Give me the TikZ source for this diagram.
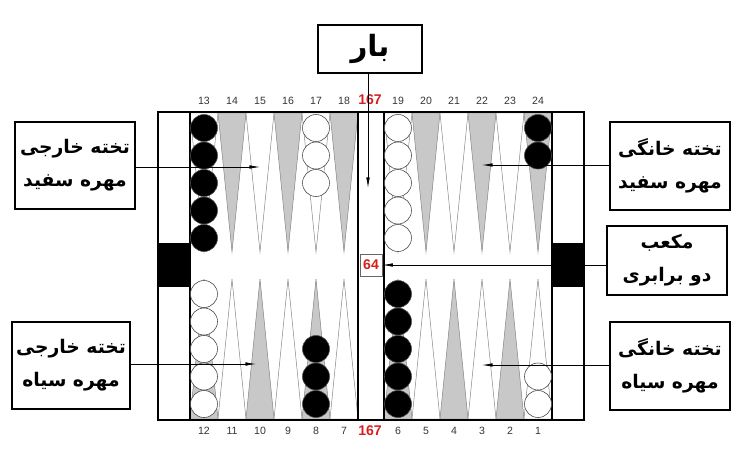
\documentclass[tikz,border=0pt]{standalone}
\usepackage{fontspec}
\setsansfont{Liberation Sans}
\newfontfamily\fa[Script=Arabic]{DejaVu Sans}
\TeXXeTstate=1
\usepackage{tikz}
\usetikzlibrary{shapes}
\usetikzlibrary{arrows.meta}
\definecolor{numred}{RGB}{214,32,32}
\definecolor{ptgray}{RGB}{200,200,200}

\begin{document}
\begin{tikzpicture}[x=0.03cm, y=-0.03cm,
	ptw/.style={draw=black!50, line width=0.4pt, fill=white},
	ptg/.style={draw=black!50, line width=0.4pt, fill=ptgray},
	bchk/.style={circle, draw=black!70, fill=black, line width=0.5pt, minimum size=0.81cm, inner sep=0pt},
	wchk/.style={circle, draw=black!70, fill=white, line width=0.5pt, minimum size=0.81cm, inner sep=0pt},
	num/.style={font=\sffamily\fontsize{9}{10}\selectfont, text=black!80, inner sep=0pt},
	rednum/.style={font=\sffamily\bfseries\fontsize{12}{13}\selectfont, text=numred, inner sep=0pt},
	lbl/.style={draw, line width=0.9pt, font=\fa\bfseries\fontsize{16}{28}\selectfont, align=center, inner sep=0pt},
	arr/.style={-{Latex[length=9pt,width=3pt]}, line width=0.6pt}]
	\useasboundingbox (0,0) rectangle (750,466);
	% board
	\fill[white] (158,112) rectangle (584,420);
	\filldraw[ptw] (190,113) -- (204,252) -- (218,113) -- cycle;\filldraw[ptg] (218,113) -- (232,252) -- (246,113) -- cycle;\filldraw[ptw] (246,113) -- (260,252) -- (274,113) -- cycle;\filldraw[ptg] (274,113) -- (288,252) -- (302,113) -- cycle;\filldraw[ptw] (302,113) -- (316,252) -- (330,113) -- cycle;\filldraw[ptg] (330,113) -- (344,252) -- (358,113) -- cycle;
	\filldraw[ptw] (384,113) -- (398,252) -- (412,113) -- cycle;\filldraw[ptg] (412,113) -- (426,252) -- (440,113) -- cycle;\filldraw[ptw] (440,113) -- (454,252) -- (468,113) -- cycle;\filldraw[ptg] (468,113) -- (482,252) -- (496,113) -- cycle;\filldraw[ptw] (496,113) -- (510,252) -- (524,113) -- cycle;\filldraw[ptg] (524,113) -- (538,252) -- (552,113) -- cycle;
	\filldraw[ptg] (190,419) -- (204,279) -- (218,419) -- cycle;\filldraw[ptw] (218,419) -- (232,279) -- (246,419) -- cycle;\filldraw[ptg] (246,419) -- (260,279) -- (274,419) -- cycle;\filldraw[ptw] (274,419) -- (288,279) -- (302,419) -- cycle;\filldraw[ptg] (302,419) -- (316,279) -- (330,419) -- cycle;\filldraw[ptw] (330,419) -- (344,279) -- (358,419) -- cycle;
	\filldraw[ptg] (384,419) -- (398,279) -- (412,419) -- cycle;\filldraw[ptw] (412,419) -- (426,279) -- (440,419) -- cycle;\filldraw[ptg] (440,419) -- (454,279) -- (468,419) -- cycle;\filldraw[ptw] (468,419) -- (482,279) -- (496,419) -- cycle;\filldraw[ptg] (496,419) -- (510,279) -- (524,419) -- cycle;\filldraw[ptw] (524,419) -- (538,279) -- (552,419) -- cycle;
	\fill (158,243) rectangle (190,287);\fill (552,243) rectangle (584,287);
	\draw[line width=1.4pt] (158,112) rectangle (584,420);
	\draw[line width=1.4pt] (190,112) -- (190,420);\draw[line width=1.4pt] (358,112) -- (358,420);\draw[line width=1.4pt] (384,112) -- (384,420);\draw[line width=1.4pt] (552,112) -- (552,420);
	% checkers
	\node[bchk] (c13a) at (204,128) {};\node[bchk] (c13b) at (204,155.5) {};\node[bchk] (c13c) at (204,183) {};\node[bchk] (c13d) at (204,210.5) {};\node[bchk] (c13e) at (204,238) {};
	\node[wchk] (c17a) at (316,128) {};\node[wchk] (c17b) at (316,155.5) {};\node[wchk] (c17c) at (316,183) {};
	\node[wchk] (c19a) at (398,128) {};\node[wchk] (c19b) at (398,155.5) {};\node[wchk] (c19c) at (398,183) {};\node[wchk] (c19d) at (398,210.5) {};\node[wchk] (c19e) at (398,238) {};
	\node[bchk] (c24a) at (538,128) {};\node[bchk] (c24b) at (538,155.5) {};
	\node[wchk] (c12a) at (204,404) {};\node[wchk] (c12b) at (204,376.5) {};\node[wchk] (c12c) at (204,349) {};\node[wchk] (c12d) at (204,321.5) {};\node[wchk] (c12e) at (204,294) {};
	\node[bchk] (c8a) at (316,404) {};\node[bchk] (c8b) at (316,376.5) {};\node[bchk] (c8c) at (316,349) {};
	\node[bchk] (c6a) at (398,404) {};\node[bchk] (c6b) at (398,376.5) {};\node[bchk] (c6c) at (398,349) {};\node[bchk] (c6d) at (398,321.5) {};\node[bchk] (c6e) at (398,294) {};
	\node[wchk] (c1a) at (538,404) {};\node[wchk] (c1b) at (538,376.5) {};
	% point numbers
	\node[num] (n13) at (204,101) {13};\node[num] (n14) at (232,101) {14};\node[num] (n15) at (260,101) {15};\node[num] (n16) at (288,101) {16};\node[num] (n17) at (316,101) {17};\node[num] (n18) at (344,101) {18};
	\node[num] (n19) at (398,101) {19};\node[num] (n20) at (426,101) {20};\node[num] (n21) at (454,101) {21};\node[num] (n22) at (482,101) {22};\node[num] (n23) at (510,101) {23};\node[num] (n24) at (538,101) {24};
	\node[num] (n12) at (204,431) {12};\node[num] (n11) at (232,431) {11};\node[num] (n10) at (260,431) {10};\node[num] (n9) at (288,431) {9};\node[num] (n8) at (316,431) {8};\node[num] (n7) at (344,431) {7};
	\node[num] (n6) at (398,431) {6};\node[num] (n5) at (426,431) {5};\node[num] (n4) at (454,431) {4};\node[num] (n3) at (482,431) {3};\node[num] (n2) at (510,431) {2};\node[num] (n1) at (538,431) {1};
	\node[rednum] (top167) at (370,100) {167};\node[rednum] (bot167) at (370,431) {167};
	\node[rednum, draw=black!60, fill=white, line width=0.5pt, minimum size=0.66cm, inner sep=0pt] (d64) at (371,265) {64};
	% labels
	\node[lbl, minimum width=3.12cm, minimum height=1.44cm, font=\fa\bfseries\fontsize{25}{28}\selectfont] (bar) at (370,49) {\beginR بار\endR};
	\node[lbl, minimum width=3.6cm, minimum height=2.61cm] (lw) at (75,165.5) {\beginR تخته خارجی\endR\\\beginR مهره سفید\endR};
	\node[lbl, minimum width=3.54cm, minimum height=2.61cm] (lb) at (71,365.5) {\beginR تخته خارجی\endR\\\beginR مهره سیاه\endR};
	\node[lbl, minimum width=3.6cm, minimum height=2.64cm] (rw) at (670,166) {\beginR تخته خانگی\endR\\\beginR مهره سفید\endR};
	\node[lbl, minimum width=3.6cm, minimum height=2.07cm] (dbl) at (667,260.5) {\beginR مکعب\endR\\\beginR دو برابری\endR};
	\node[lbl, minimum width=3.6cm, minimum height=2.64cm] (rb) at (670,366) {\beginR تخته خانگی\endR\\\beginR مهره سیاه\endR};
	\coordinate (barEnd) at (368,188);\coordinate (lwEnd) at (260,167);\coordinate (lbEnd) at (256,364);\coordinate (rwEnd) at (482,165);\coordinate (rbEnd) at (482,365);
	\draw[arr] (bar.south -| barEnd) -- (barEnd);
	\draw[arr] (lwEnd -| lw.east) -- (lwEnd);\draw[arr] (lbEnd -| lb.east) -- (lbEnd);
	\draw[arr] (rwEnd -| rw.west) -- (rwEnd);\draw[arr] (rbEnd -| rb.west) -- (rbEnd);
	\draw[arr] (d64.east -| dbl.west) -- (d64.east);
\end{tikzpicture}
\end{document}
